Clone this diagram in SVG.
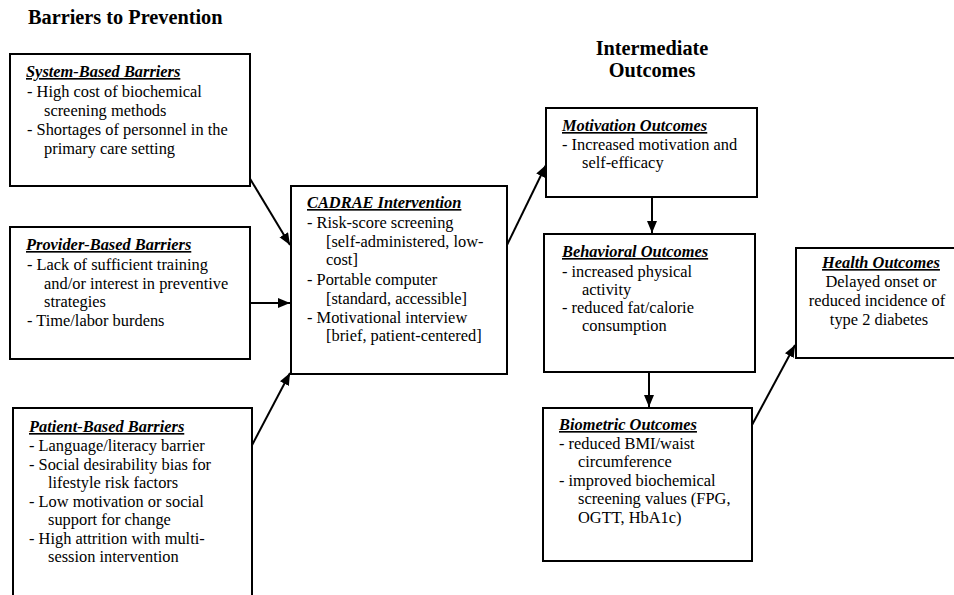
<svg xmlns="http://www.w3.org/2000/svg" width="954" height="595" viewBox="0 0 954 595">
<style>
.box{fill:#fff;stroke:#000;stroke-width:2}
text{font-family:"Liberation Serif","Times New Roman",serif;fill:#000}
.hd{font-size:20.3px;font-weight:bold}
.t{font-size:16.4px;font-weight:bold;font-style:italic;text-decoration:underline}
.b{font-size:16.4px}
.c{text-anchor:middle}
.ln{stroke:#000;stroke-width:2;fill:none;marker-end:url(#ah)}
</style>
<defs>
<marker id="ah" markerUnits="userSpaceOnUse" markerWidth="13" markerHeight="11" refX="12" refY="5" orient="auto">
<path d="M0,0 L12,5 L0,10 z" fill="#000"/>
</marker>
</defs>
<rect width="954" height="595" fill="#fff"/>
<text class="hd" x="28" y="24">Barriers to Prevention</text>
<text class="hd c" x="652" y="55">Intermediate</text>
<text class="hd c" x="652" y="77">Outcomes</text>

<g id="connectors">
<line class="ln" x1="249" y1="177" x2="290" y2="245"/>
<line class="ln" x1="251" y1="303" x2="290" y2="303"/>
<line class="ln" x1="250" y1="449" x2="290" y2="373"/>
<line class="ln" x1="507" y1="245" x2="546" y2="165"/>
<line class="ln" x1="652" y1="197" x2="652" y2="233"/>
<line class="ln" x1="649" y1="372" x2="649" y2="407"/>
<line class="ln" x1="752" y1="425" x2="795" y2="345"/>
</g>

<g id="system">
<rect class="box" x="10" y="54" width="240" height="132"/>
<text class="t" x="26" y="77">System-Based Barriers</text>
<text class="b" x="27" y="97">- High cost of biochemical</text>
<text class="b" x="44" y="116">screening methods</text>
<text class="b" x="27" y="135">- Shortages of personnel in the</text>
<text class="b" x="44" y="154">primary care setting</text>
</g>

<g id="provider">
<rect class="box" x="10" y="227" width="240" height="132"/>
<text class="t" x="26" y="250">Provider-Based Barriers</text>
<text class="b" x="27" y="270">- Lack of sufficient training</text>
<text class="b" x="44" y="289">and/or interest in preventive</text>
<text class="b" x="44" y="307">strategies</text>
<text class="b" x="27" y="326">- Time/labor burdens</text>
</g>

<g id="patient">
<rect class="box" x="13" y="408" width="239" height="200"/>
<text class="t" x="29" y="432">Patient-Based Barriers</text>
<text class="b" x="29" y="451">- Language/literacy barrier</text>
<text class="b" x="29" y="470">- Social desirability bias for</text>
<text class="b" x="48" y="488">lifestyle risk factors</text>
<text class="b" x="29" y="507">- Low motivation or social</text>
<text class="b" x="48" y="525">support for change</text>
<text class="b" x="29" y="544">- High attrition with multi-</text>
<text class="b" x="48" y="562">session intervention</text>
</g>

<g id="cadrae">
<rect class="box" x="291" y="186" width="216" height="188"/>
<text class="t" x="307" y="208">CADRAE Intervention</text>
<text class="b" x="307" y="228">- Risk-score screening</text>
<text class="b" x="326" y="247">[self-administered, low-</text>
<text class="b" x="326" y="265">cost]</text>
<text class="b" x="307" y="285">- Portable computer</text>
<text class="b" x="326" y="304">[standard, accessible]</text>
<text class="b" x="307" y="323">- Motivational interview</text>
<text class="b" x="326" y="341">[brief, patient-centered]</text>
</g>

<g id="motivation">
<rect class="box" x="546" y="108" width="211" height="89"/>
<text class="t" x="562" y="131">Motivation Outcomes</text>
<text class="b" x="562" y="150">- Increased motivation and</text>
<text class="b" x="582" y="168">self-efficacy</text>
</g>

<g id="behavioral">
<rect class="box" x="544" y="234" width="211" height="138"/>
<text class="t" x="562" y="257">Behavioral Outcomes</text>
<text class="b" x="562" y="277">- increased physical</text>
<text class="b" x="582" y="295">activity</text>
<text class="b" x="562" y="313">- reduced fat/calorie</text>
<text class="b" x="582" y="331">consumption</text>
</g>

<g id="biometric">
<rect class="box" x="543" y="408" width="209" height="153"/>
<text class="t" x="559" y="430">Biometric Outcomes</text>
<text class="b" x="559" y="449">- reduced BMI/waist</text>
<text class="b" x="578" y="467">circumference</text>
<text class="b" x="559" y="486">- improved biochemical</text>
<text class="b" x="578" y="504">screening values (FPG,</text>
<text class="b" x="578" y="523">OGTT, HbA1c)</text>
</g>

<g id="health">
<rect class="box" x="796" y="248" width="170" height="110"/>
<text class="t c" x="881" y="268">Health Outcomes</text>
<text class="b c" x="881" y="287">Delayed onset or</text>
<text class="b c" x="877" y="306">reduced incidence of</text>
<text class="b c" x="879" y="325">type 2 diabetes</text>
</g>
</svg>
